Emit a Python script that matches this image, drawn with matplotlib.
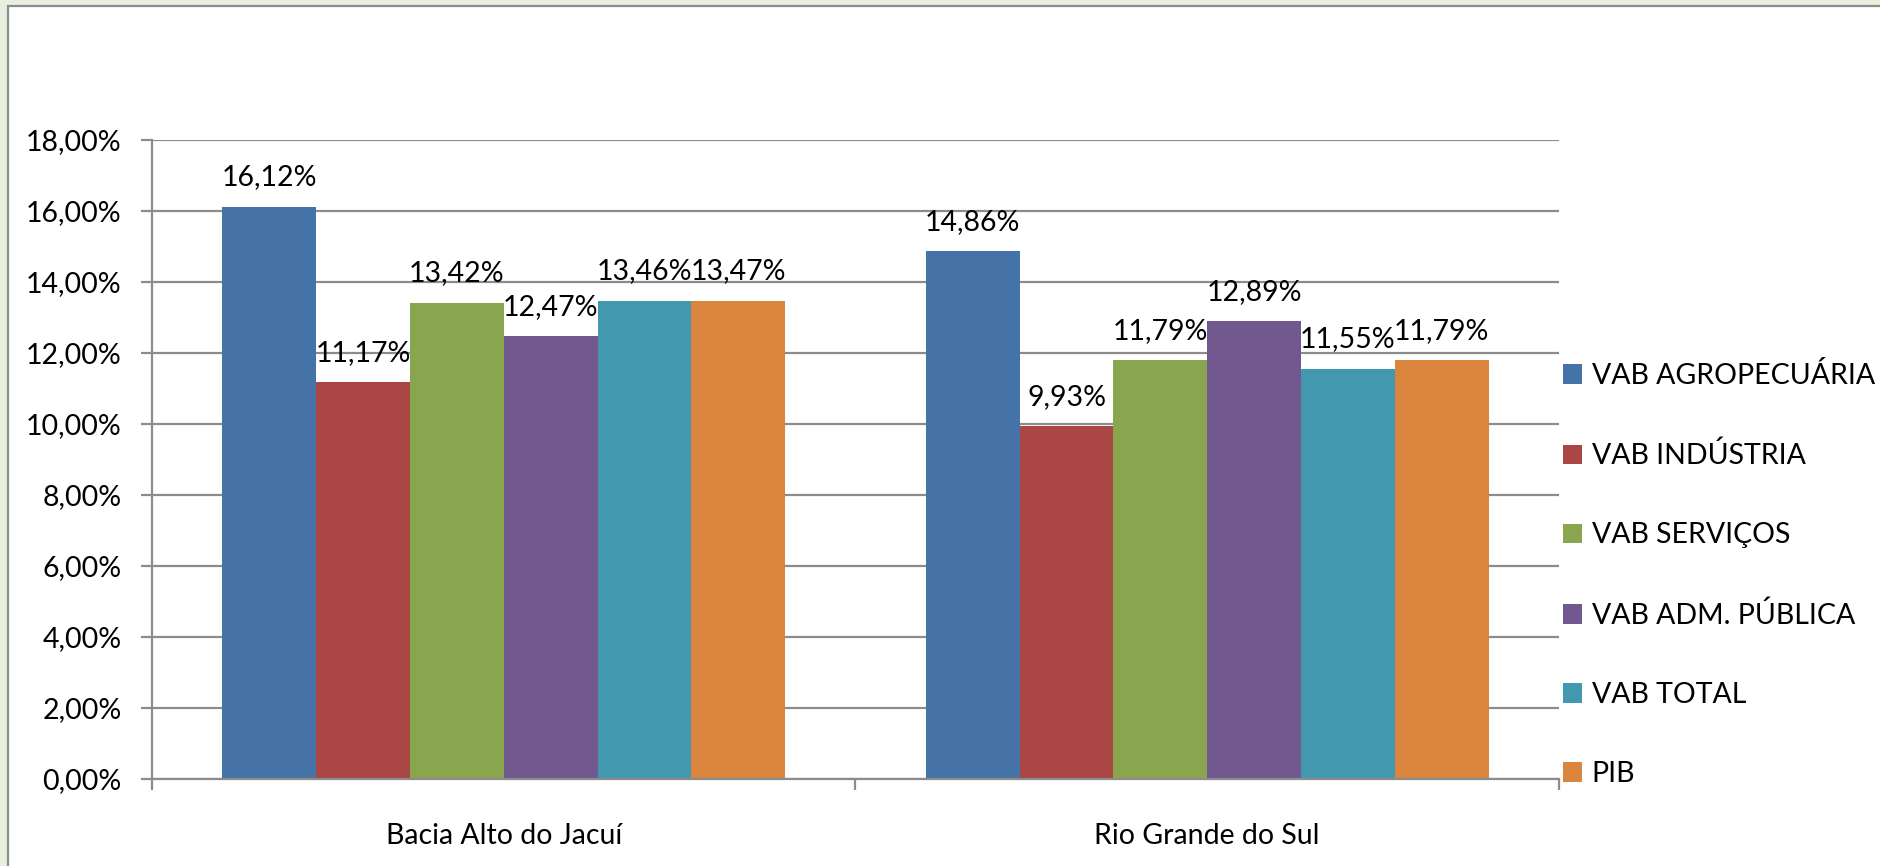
import matplotlib
matplotlib.use("Agg")
import matplotlib.pyplot as plt
import numpy as np
from matplotlib.patches import Rectangle

plt.rcParams['font.family'] = ['Lato', 'DejaVu Sans']

categories = ["Bacia Alto do Jacuí", "Rio Grande do Sul"]
series = ["VAB AGROPECUÁRIA", "VAB INDÚSTRIA", "VAB SERVIÇOS",
          "VAB ADM. PÚBLICA", "VAB TOTAL", "PIB"]
agro = [16.12, 14.86]
industria = [11.17, 9.93]
servicos = [13.42, 11.79]
adm_publica = [12.47, 12.89]
total = [13.46, 11.55]
pib = [13.47, 11.79]
values = [agro, industria, servicos, adm_publica, total, pib]
colors = ["#4572A7", "#AA4643", "#89A54E", "#71588F", "#4198AF", "#DB843D"]
yticks = [0, 2, 4, 6, 8, 10, 12, 14, 16, 18]

W, H = 1881, 866
fig = plt.figure(figsize=(W / 100, H / 100), dpi=100, facecolor="#EAF0E0")
fig.patches.append(Rectangle((8 / W, -0.05), 1.1, (H - 6) / H + 0.05,
                             transform=fig.transFigure, facecolor="white",
                             edgecolor="#8C8C8C", linewidth=1.6, zorder=-5))

ax = fig.add_axes([152 / W, (H - 779) / H, 1407 / W, 639 / H])
ax.set_facecolor("none")

x = np.arange(len(categories))
n = len(series)
bw = 0.8 / n
fs = 20.5
for i, (s, v, c) in enumerate(zip(series, values, colors)):
    pos = x - 0.4 + bw * (i + 0.5)
    bars = ax.bar(pos, v, width=bw, color=c, label=s, zorder=2)
    for b, val in zip(bars, v):
        ax.annotate(f"{val:.2f}%".replace(".", ","),
                    (b.get_x() + b.get_width() / 2, b.get_height()),
                    xytext=(0, 12), textcoords="offset points",
                    ha="center", va="bottom", fontsize=fs, color="black",
                    zorder=3)

ax.set_ylim(0, 18)
ax.set_xlim(-0.5, 1.5)
ax.set_yticks(yticks)
ax.set_yticklabels([f"{t:.2f}%".replace(".", ",") for t in yticks], fontsize=fs)
ax.yaxis.grid(True, color="#8C8C8C", linewidth=1.6, zorder=1)
ax.set_axisbelow(True)
ax.tick_params(axis="y", length=8, width=1.6, color="#8C8C8C", pad=14)

ax.set_xticks(x)
ax.set_xticklabels(categories, fontsize=fs)
ax.set_xticks([-0.5, 0.5, 1.5], minor=True)
ax.tick_params(axis="x", which="major", length=0, pad=32)
ax.tick_params(axis="x", which="minor", length=8, width=1.6, color="#8C8C8C")

for sp in ["top", "right"]:
    ax.spines[sp].set_visible(False)
for sp in ["left", "bottom"]:
    ax.spines[sp].set_color("#8C8C8C")
    ax.spines[sp].set_linewidth(1.6)

leg = ax.legend(loc="upper left", bbox_to_anchor=(1563 / W, (H - 362) / H),
                bbox_transform=fig.transFigure, frameon=False, fontsize=fs,
                handlelength=0.68, handleheight=0.68, handletextpad=0.33,
                labelspacing=1.86, borderpad=0, borderaxespad=0)

fig.savefig("out.png", dpi=100, facecolor=fig.get_facecolor())
